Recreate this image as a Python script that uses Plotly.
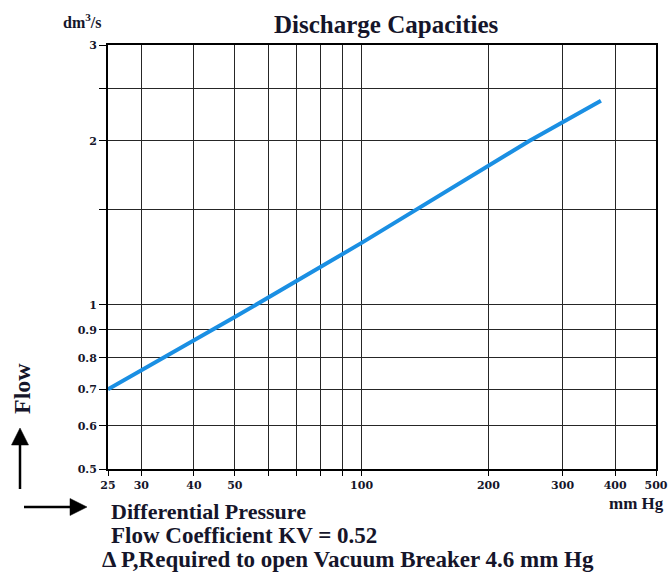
import plotly.graph_objects as go

# Data
pressure = [25, 50, 100, 250, 370]          # mm Hg
flow = [0.70, 0.95, 1.30, 2.0, 2.37]        # dm3/s

x_tickvals = [25, 30, 40, 50, 60, 70, 80, 90, 100, 200, 300, 400, 500]
x_ticktext = ["25", "30", "40", "50", "", "", "", "", "100", "200", "300", "400", "500"]
y_tickvals = [0.5, 0.6, 0.7, 0.8, 0.9, 1, 1.5, 2, 2.5, 3]
y_ticktext = ["0.5", "0.6", "0.7", "0.8", "0.9", "1", "", "2", "", "3"]

W, H = 668, 576
PL, PR, PT, PB = 108, 656, 45, 469          # plot box in pixels
L, T, R, B = PL, PT, W - PR, H - PB
PW, PH = PR - PL, PB - PT

def px(xp):
    return (xp - PL) / PW

def py(yp):
    return (PB - yp) / PH

TXT = "#15152a"
SERIF = "Liberation Serif"

fig = go.Figure()
fig.add_trace(go.Scatter(
    x=pressure, y=flow, mode="lines",
    line=dict(color="#1a8fe3", width=4),
    hoverinfo="skip", showlegend=False,
))

axis_common = dict(
    showgrid=True, gridcolor="#262626", gridwidth=1.4,
    showline=True, linecolor="#000000", linewidth=2, mirror=True,
    ticks="outside", tickcolor="#000000", tickwidth=1.4,
    zeroline=False, automargin=False,
    tickfont=dict(family="DejaVu Serif", size=11, color=TXT, weight="bold"),
)

fig.update_xaxes(type="log", range=[1.39794, 2.69897], ticklen=5,
                 tickvals=x_tickvals, ticktext=x_ticktext, **axis_common)
fig.update_yaxes(type="log", range=[-0.30103, 0.47712], ticklen=7,
                 tickvals=y_tickvals, ticktext=y_ticktext, **axis_common)

annotations = [
    dict(text="<b>Discharge Capacities</b>", x=px(386), y=py(25), xanchor="center", yanchor="middle",
         font=dict(family=SERIF, size=25, color=TXT)),
    dict(text="<b>dm<sup>3</sup>/s</b>", x=px(82), y=py(21), xanchor="center", yanchor="middle",
         font=dict(family=SERIF, size=16, color=TXT)),
    dict(text="<b>Flow</b>", x=px(22), y=py(389), xanchor="center", yanchor="middle", textangle=-90,
         font=dict(family=SERIF, size=24, color=TXT)),
    dict(text="<b>mm Hg</b>", x=px(666), y=py(503), xanchor="right", yanchor="middle",
         font=dict(family=SERIF, size=17, color=TXT)),
    dict(text="<b>Differential Pressure</b>", x=px(109), y=py(511), xanchor="left", yanchor="middle",
         font=dict(family=SERIF, size=22, color=TXT)),
    dict(text="<b>Flow Coefficient KV = 0.52</b>", x=px(109), y=py(535), xanchor="left", yanchor="middle",
         font=dict(family=SERIF, size=23, color=TXT)),
    dict(text="<b>\u0394 P,Required to open Vacuum Breaker 4.6 mm Hg</b>", x=px(100), y=py(559),
         xanchor="left", yanchor="middle",
         font=dict(family=SERIF, size=23, color=TXT)),
]
for a in annotations:
    a.update(xref="paper", yref="paper", showarrow=False)

shapes = [
    # up arrow
    dict(type="line", x0=px(20), x1=px(20), y0=py(489), y1=py(440),
         line=dict(color="#000", width=2.5)),
    dict(type="path",
         path=f"M {px(20)} {py(428)} L {px(11.5)} {py(445)} L {px(28.5)} {py(445)} Z",
         fillcolor="#000", line=dict(color="#000", width=0.5)),
    # right arrow
    dict(type="line", x0=px(24), x1=px(75), y0=py(507), y1=py(507),
         line=dict(color="#000", width=2.5)),
    dict(type="path",
         path=f"M {px(87)} {py(507)} L {px(70)} {py(498.5)} L {px(70)} {py(515.5)} Z",
         fillcolor="#000", line=dict(color="#000", width=0.5)),
]
for s in shapes:
    s.update(xref="paper", yref="paper")

fig.update_layout(
    width=W, height=H,
    margin=dict(l=L, r=R, t=T, b=B),
    paper_bgcolor="white", plot_bgcolor="white",
    annotations=annotations, shapes=shapes,
    showlegend=False,
)

fig.write_html(
    "out.html",
    config={"displayModeBar": False},
    post_script="document.body.style.margin='0';document.body.style.overflow='hidden';",
)
